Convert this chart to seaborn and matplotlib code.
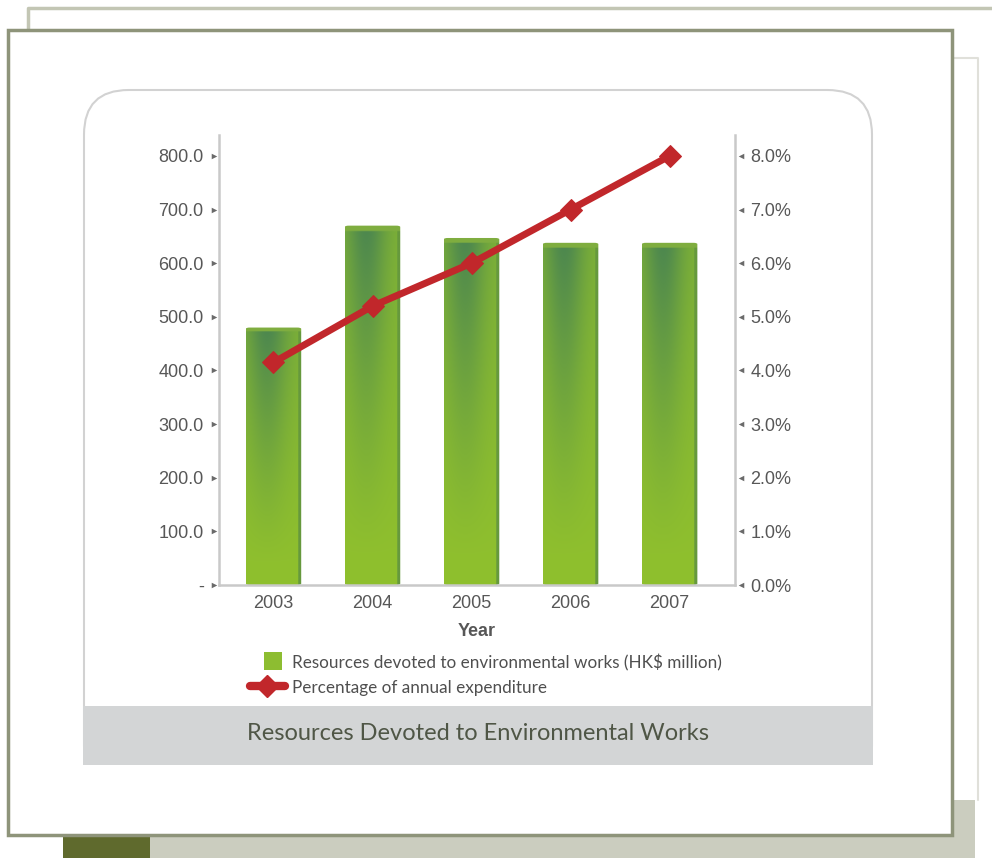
import numpy as np
import pandas as pd
import matplotlib
matplotlib.use("Agg")
import matplotlib.pyplot as plt
from matplotlib.patches import Rectangle, FancyBboxPatch
from matplotlib.lines import Line2D
import matplotlib.transforms as mtransforms
import seaborn as sns

# ---- data -------------------------------------------------------------
years = ["2003", "2004", "2005", "2006", "2007"]
resources = [480.0, 670.0, 647.0, 638.0, 638.0]        # HK$ million
pct_expenditure = [4.15, 5.2, 6.0, 7.0, 8.0]           # % of annual expenditure
left_ticks = [0, 100, 200, 300, 400, 500, 600, 700, 800]
left_labels = ["-", "100.0", "200.0", "300.0", "400.0", "500.0", "600.0", "700.0", "800.0"]
right_ticks = [0, 1, 2, 3, 4, 5, 6, 7, 8]
right_labels = ["0.0%", "1.0%", "2.0%", "3.0%", "4.0%", "5.0%", "6.0%", "7.0%", "8.0%"]
bar_label = "Resources devoted to environmental works (HK$ million)"
line_label = "Percentage of annual expenditure"
title = "Resources Devoted to Environmental Works"

df = pd.DataFrame({"Year": years, "Resources": resources, "Pct": pct_expenditure})

W, H = 992, 858
sns.set_theme(style="white")
plt.rcParams["font.family"] = ["Liberation Sans", "DejaVu Sans"]
fig = plt.figure(figsize=(W / 100, H / 100), dpi=100)
fig.patch.set_facecolor("white")


def px(x0, y0, x1, y1):
    """Pixel box (top-left origin) -> figure fraction rectangle."""
    return x0 / W, 1 - y1 / H, (x1 - x0) / W, (y1 - y0) / H


def frect(x0, y0, x1, y1, **kw):
    l, b, w, h = px(x0, y0, x1, y1)
    fig.patches.append(Rectangle((l, b), w, h, transform=fig.transFigure, **kw))


def fline(xs, ys, **kw):
    fig.add_artist(Line2D([x / W for x in xs], [1 - y / H for y in ys],
                          transform=fig.transFigure, **kw))


# ---- page frames ------------------------------------------------------
fline([28, 28, 992], [30, 8, 8], color="#c3c6b4", lw=2.5, zorder=0)
frect(63, 835, 975, 858, facecolor="#cbcdbf", edgecolor="none", zorder=0)
frect(63, 835, 150, 858, facecolor="#5f6a2d", edgecolor="none", zorder=0)
frect(952, 800, 975, 835, facecolor="#cbcdbf", edgecolor="none", zorder=0)
fline([952, 978, 978], [58, 58, 800], color="#e0e0da", lw=1.5, zorder=0)
frect(8, 30, 952, 835, facecolor="white", edgecolor="#8e947a", lw=2.5, zorder=1)

# rounded inner panel with grey caption band
l, b, w, h = px(84, 90, 872, 790)
fig.patches.append(FancyBboxPatch((l, b), w, h, boxstyle="round,pad=0,rounding_size=0.045",
                                  mutation_aspect=W / H, transform=fig.transFigure,
                                  facecolor="white", edgecolor="#d2d2d2", lw=1.5, zorder=2))
frect(83, 706, 873, 765, facecolor="#d3d5d6", edgecolor="none", zorder=3)
frect(83, 765, 873, 792, facecolor="white", edgecolor="none", zorder=3)
fig.text(478 / W, 1 - 733 / H, title, ha="center", va="center", fontsize=17,
         color="#4f5646", family=["Lato", "DejaVu Sans"], zorder=4)

# ---- axes ---------------------------------------------------------------
ax = fig.add_axes(px(219, 135, 735, 585))
ax.set_zorder(5)
ax.patch.set_alpha(0)
sns.barplot(data=df, x="Year", y="Resources", color="#8dbd31", width=0.56,
            saturation=1, ax=ax, label=bar_label, legend=False)

# shaded, slightly rounded bars: dark green crown fading to yellow-green at the base
nx, ny = 120, 240
xs = np.linspace(0, 1, nx)
ys = np.linspace(0, 1, ny)
hprof = 0.25 + 0.75 * np.exp(-((xs - 0.38) / 0.36) ** 2)
vprof = np.clip((ys - 0.08) / 0.92, 0, 1) ** 1.2
fac = np.clip(np.outer(vprof, hprof), 0, 1)
dark = np.array([0.30, 0.53, 0.31])
light = np.array([0.56, 0.75, 0.18])
img = light + (dark - light) * fac[..., None]
edge = np.array([0.40, 0.60, 0.24])
img[:, xs > 0.94] = edge
img[ys > 0.985, :] = np.array([0.50, 0.68, 0.25])
for p in ax.patches:
    x0, y0 = p.get_x(), p.get_y()
    bw, bh = p.get_width(), p.get_height()
    p.set_facecolor("none")
    p.set_edgecolor("none")
    clip = FancyBboxPatch((x0, y0), bw, bh, boxstyle="round,pad=0,rounding_size=0.04",
                          mutation_aspect=60, transform=ax.transData,
                          facecolor="none", edgecolor="none")
    ax.add_patch(clip)
    im = ax.imshow(img, extent=(x0, x0 + bw, y0, y0 + bh), origin="lower",
                   aspect="auto", interpolation="bilinear", zorder=2)
    im.set_clip_path(clip)
ax.set_xlim(-0.55, 4.66)
ax.set_ylim(0, 839)

ax2 = ax.twinx()
sns.lineplot(data=df, x="Year", y="Pct", ax=ax2, color="#c1272b", lw=5,
             marker="D", markersize=11, markeredgecolor="#c1272b",
             label=line_label, legend=False, sort=False)
ax2.set_ylim(0, 8.39)
ax2.set_xlim(-0.55, 4.66)

spine_col = "#c9c9c9"
for a in (ax, ax2):
    for s in a.spines.values():
        s.set_visible(False)
ax.spines["left"].set_visible(True)
ax.spines["bottom"].set_visible(True)
ax2.spines["right"].set_visible(True)
for s in (ax.spines["left"], ax.spines["bottom"], ax2.spines["right"]):
    s.set_color(spine_col)
    s.set_linewidth(1.8)

lab_col = "#575757"
ax.set_yticks(left_ticks)
ax.set_yticklabels(left_labels)
ax2.set_yticks(right_ticks)
ax2.set_yticklabels(right_labels)
ax.tick_params(axis="y", length=0, pad=11, labelsize=13, labelcolor=lab_col)
ax2.tick_params(axis="y", length=0, pad=11, labelsize=13, labelcolor=lab_col)
ax.tick_params(axis="x", length=0, pad=7, labelsize=13, labelcolor=lab_col)
ax2.set_ylabel("")
ax.set_ylabel("")
ax.set_xlabel("Year", fontsize=13, fontweight="bold", color=lab_col, labelpad=8)

# small arrow-head tick marks
tl = mtransforms.blended_transform_factory(ax.transAxes, ax.transData)
ax.scatter([-0.009] * len(left_ticks), left_ticks, marker=">", s=16, color="#6a6a6a",
           transform=tl, clip_on=False, zorder=6, linewidths=0)
tr = mtransforms.blended_transform_factory(ax2.transAxes, ax2.transData)
ax2.scatter([1.011] * len(right_ticks), right_ticks, marker="<", s=16, color="#6a6a6a",
            transform=tr, clip_on=False, zorder=6, linewidths=0)

# legend
h_bar = Rectangle((0, 0), 1, 1, facecolor="#8dbd31", edgecolor="none")
h_line = Line2D([], [], color="#c1272b", lw=6, marker="D", markersize=11)
leg = fig.legend([h_bar, h_line], [bar_label, line_label],
                 loc="upper left", bbox_to_anchor=(235 / W, 1 - 639 / H),
                 frameon=False, handlelength=2.0, handleheight=1.0, handletextpad=0.45,
                 labelspacing=0.45, prop={"family": ["Lato", "DejaVu Sans"], "size": 12.3})
for t in leg.get_texts():
    t.set_color("#4f4f4f")
leg.set_zorder(6)
hb = leg.legend_handles[0]
hb.set_width(13)
hb.set_height(13)
hb.set_x(hb.get_x() + 10)

fig.savefig("out.png", dpi=100, facecolor=fig.get_facecolor())
